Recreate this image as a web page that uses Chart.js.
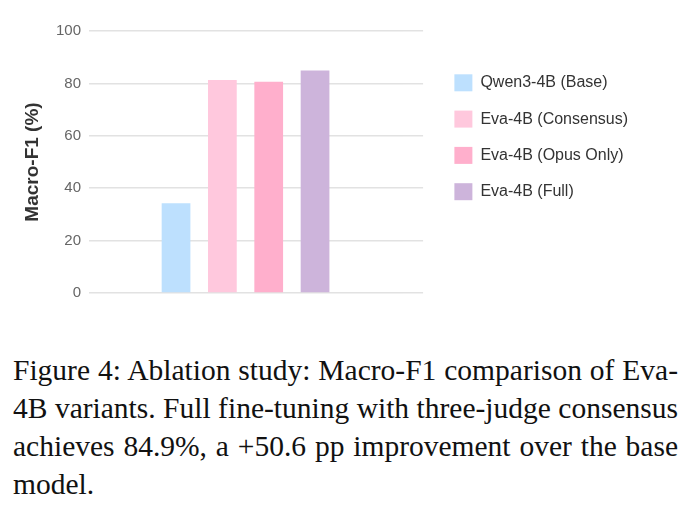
<!DOCTYPE html>
<html>
<head>
<meta charset="utf-8">
<script src="https://cdn.jsdelivr.net/npm/chart.js@4.4.1/dist/chart.umd.min.js"></script>
<style>
  html, body { margin: 0; padding: 0; background: #fff; }
  body { width: 692px; height: 506px; position: relative; overflow: hidden; }
  #wrap { position: absolute; left: 0; top: 0; width: 692px; height: 320px; }
  #caption {
    position: absolute; left: 13px; top: 351px; width: 665px;
    font-family: "Liberation Serif", "Times New Roman", serif;
    font-size: 29.5px; line-height: 38px; color: #111;
  }
  #caption div { text-align: justify; text-align-last: justify; white-space: nowrap; }
  #caption div.last { text-align-last: left; }
</style>
</head>
<body>
<div id="wrap"><canvas id="ablationChart"></canvas></div>
<div id="caption">
  <div>Figure 4: Ablation study: Macro-F1 comparison of Eva-</div>
  <div>4B variants. Full fine-tuning with three-judge consensus</div>
  <div>achieves 84.9%, a +50.6 pp improvement over the base</div>
  <div class="last">model.</div>
</div>
<script>
// data
const variants = ['Qwen3-4B (Base)', 'Eva-4B (Consensus)', 'Eva-4B (Opus Only)', 'Eva-4B (Full)'];
const macroF1 = [34.3, 81.3, 80.6, 84.9];
const barColors = ['#bde0fe', '#ffc8dd', '#ffafcc', '#cdb4db'];
const yTicks = [0, 20, 40, 60, 80, 100];

const gridColor = '#e2e2e2';
const sans = 'Liberation Sans, Arial, sans-serif';

document.addEventListener("DOMContentLoaded", function() {
    const ctx = document.getElementById('ablationChart').getContext('2d');

    // one category, one dataset per variant so each gets its own legend entry
    const datasets = variants.map(function(name, i) {
        return {
            label: name,
            data: [macroF1[i]],
            backgroundColor: barColors[i],
            borderWidth: 0,
            categoryPercentage: 0.592,
            barPercentage: 0.62
        };
    });

    const setTicks = function(scale) {
        scale.ticks = yTicks.map(function(v) { return { value: v }; });
    };

    new Chart(ctx, {
        type: 'bar',
        data: { labels: [''], datasets: datasets },
        options: {
            responsive: true,
            maintainAspectRatio: false,
            animation: false,
            layout: { padding: { top: 31, right: 54, bottom: 27, left: 0 } },
            plugins: {
                tooltip: { enabled: false },
                legend: {
                    position: 'right',
                    align: 'start',
                    fullSize: false,
                    maxWidth: 300,
                    title: { display: true, text: '', padding: { top: 4.8, bottom: 4.8 } },
                    labels: {
                        boxWidth: 18,
                        boxHeight: 17,
                        padding: 19.3,
                        color: '#333',
                        font: { family: sans, size: 16 }
                    }
                }
            },
            scales: {
                x: { display: false },
                y: {
                    min: 0,
                    max: 100,
                    afterBuildTicks: setTicks,
                    afterFit: function(scale) { scale.width = 89; },
                    border: { display: false },
                    grid: { color: gridColor, drawTicks: false, lineWidth: 1.5 },
                    ticks: {
                        padding: 8,
                        color: '#666',
                        font: { family: sans, size: 15 }
                    },
                    title: {
                        display: true,
                        text: 'Macro-F1 (%)',
                        color: '#333',
                        padding: { top: 21, bottom: 0 },
                        font: { family: sans, size: 19, weight: 'bold' }
                    }
                },
                yRight: {
                    position: 'right',
                    min: 0,
                    max: 100,
                    afterBuildTicks: setTicks,
                    afterFit: function(scale) { scale.width = 33; },
                    border: { display: false },
                    grid: { color: gridColor, drawOnChartArea: false, tickLength: 21, lineWidth: 1.5 },
                    ticks: { display: false }
                }
            }
        }
    });
});
</script>
</body>
</html>
